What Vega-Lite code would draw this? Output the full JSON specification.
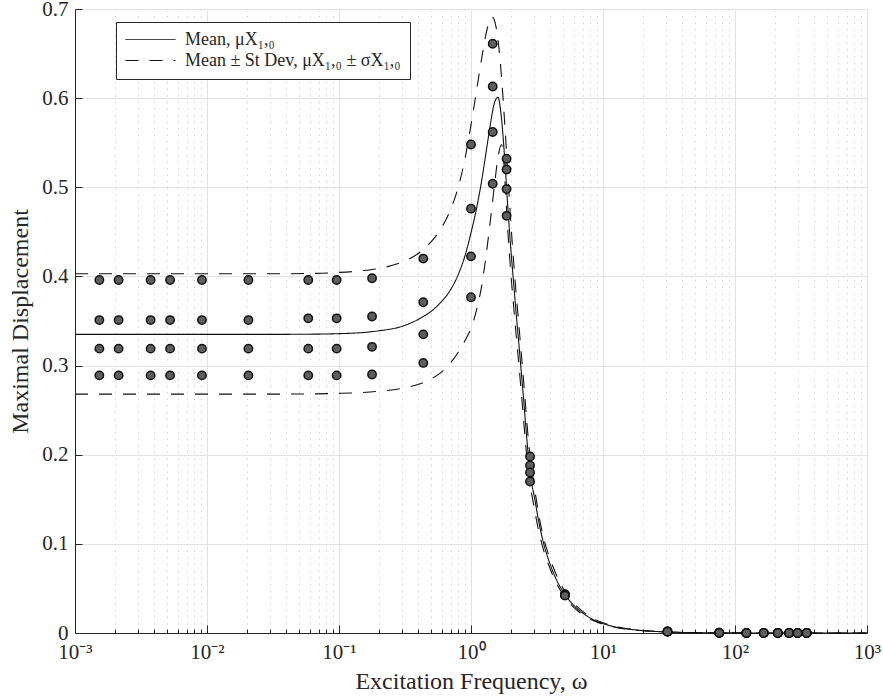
{
  "$schema": "https://vega.github.io/schema/vega-lite/v6.json",
  "width": 792,
  "height": 624,
  "autosize": {"type": "none"},
  "padding": {"left": 75, "top": 9, "right": 16, "bottom": 65},
  "background": "white",
  "config": {
    "font": "Liberation Serif",
    "view": {"stroke": null},
    "axis": {
      "labelFont": "Liberation Serif",
      "titleFont": "Liberation Serif",
      "labelColor": "#262626",
      "titleColor": "#262626",
      "domainColor": "#262626",
      "tickColor": "#262626",
      "titleFontWeight": "normal"
    },
    "legend": {
      "labelFont": "Liberation Serif",
      "labelFontSize": 18,
      "labelColor": "#262626",
      "labelLimit": 0,
      "orient": "none",
      "legendX": 41,
      "legendY": 13,
      "padding": 9,
      "strokeColor": "#262626",
      "fillColor": "white",
      "symbolType": "stroke",
      "symbolSize": 2500,
      "symbolStrokeWidth": 1,
      "symbolStrokeColor": "#111111",
      "clipHeight": 17,
      "rowPadding": 2,
      "labelOffset": 9
    }
  },
  "datasets": {
    "mean": [
      {"w":0.001,"v":0.335},{"w":0.01,"v":0.335},{"w":0.03,"v":0.335},{"w":0.06,"v":0.3352},{"w":0.1,"v":0.3358},{"w":0.15,"v":0.337},{"w":0.2,"v":0.339},{"w":0.3,"v":0.344},{"w":0.4,"v":0.352},{"w":0.5,"v":0.361},{"w":0.6,"v":0.372},{"w":0.7,"v":0.385},{"w":0.8,"v":0.402},{"w":0.9,"v":0.423},{"w":1.0,"v":0.449},{"w":1.1,"v":0.476},{"w":1.2,"v":0.506},{"w":1.3,"v":0.539},{"w":1.4,"v":0.57},{"w":1.5,"v":0.594},{"w":1.6,"v":0.601},{"w":1.7,"v":0.578},{"w":1.8,"v":0.532},{"w":1.9,"v":0.478},{"w":2.0,"v":0.432},{"w":2.1,"v":0.394},{"w":2.2,"v":0.358},{"w":2.3,"v":0.326},{"w":2.4,"v":0.294},{"w":2.5,"v":0.263},{"w":2.6,"v":0.232},{"w":2.72,"v":0.199},{"w":2.8,"v":0.184},{"w":2.9,"v":0.166},{"w":3.0,"v":0.155},{"w":3.25,"v":0.126},{"w":3.5,"v":0.104},{"w":4.0,"v":0.076},{"w":4.5,"v":0.058},{"w":5.2,"v":0.0425},{"w":6,"v":0.031},{"w":7,"v":0.0225},{"w":8.5,"v":0.0148},{"w":10,"v":0.0106},{"w":13,"v":0.0062},{"w":19,"v":0.003},{"w":30,"v":0.0012},{"w":50,"v":0.0004},{"w":100,"v":0.0001},{"w":1000,"v":0.000001}
    ],
    "upper": [
      {"w":0.001,"v":0.403},{"w":0.01,"v":0.403},{"w":0.03,"v":0.403},{"w":0.06,"v":0.4033},{"w":0.1,"v":0.4045},{"w":0.15,"v":0.4065},{"w":0.2,"v":0.409},{"w":0.3,"v":0.416},{"w":0.4,"v":0.426},{"w":0.5,"v":0.439},{"w":0.6,"v":0.455},{"w":0.7,"v":0.475},{"w":0.8,"v":0.5},{"w":0.9,"v":0.532},{"w":1.0,"v":0.57},{"w":1.1,"v":0.608},{"w":1.2,"v":0.643},{"w":1.3,"v":0.672},{"w":1.4,"v":0.689},{"w":1.45,"v":0.691},{"w":1.5,"v":0.688},{"w":1.6,"v":0.666},{"w":1.7,"v":0.625},{"w":1.8,"v":0.572},{"w":1.9,"v":0.515},{"w":2.0,"v":0.462},{"w":2.1,"v":0.418},{"w":2.2,"v":0.38},{"w":2.3,"v":0.347},{"w":2.4,"v":0.315},{"w":2.5,"v":0.284},{"w":2.6,"v":0.252},{"w":2.72,"v":0.217},{"w":2.85,"v":0.19},{"w":3.0,"v":0.167},{"w":3.25,"v":0.134},{"w":3.5,"v":0.11},{"w":4.0,"v":0.082},{"w":4.5,"v":0.063},{"w":5.2,"v":0.0455},{"w":6,"v":0.0335},{"w":7,"v":0.0243},{"w":8.5,"v":0.016},{"w":10,"v":0.0114},{"w":13,"v":0.0067},{"w":19,"v":0.0032},{"w":30,"v":0.0013},{"w":50,"v":0.00045},{"w":100,"v":0.00011},{"w":1000,"v":0.000001}
    ],
    "lower": [
      {"w":0.001,"v":0.268},{"w":0.01,"v":0.268},{"w":0.03,"v":0.268},{"w":0.06,"v":0.2682},{"w":0.1,"v":0.2688},{"w":0.15,"v":0.2698},{"w":0.2,"v":0.2712},{"w":0.3,"v":0.2745},{"w":0.4,"v":0.279},{"w":0.5,"v":0.285},{"w":0.6,"v":0.293},{"w":0.7,"v":0.303},{"w":0.8,"v":0.315},{"w":0.9,"v":0.328},{"w":1.0,"v":0.342},{"w":1.1,"v":0.362},{"w":1.2,"v":0.388},{"w":1.3,"v":0.423},{"w":1.4,"v":0.462},{"w":1.5,"v":0.5},{"w":1.6,"v":0.533},{"w":1.7,"v":0.548},{"w":1.75,"v":0.54},{"w":1.8,"v":0.512},{"w":1.9,"v":0.452},{"w":2.0,"v":0.405},{"w":2.1,"v":0.368},{"w":2.2,"v":0.334},{"w":2.3,"v":0.303},{"w":2.4,"v":0.271},{"w":2.5,"v":0.24},{"w":2.6,"v":0.21},{"w":2.72,"v":0.18},{"w":2.85,"v":0.16},{"w":3.0,"v":0.142},{"w":3.25,"v":0.115},{"w":3.5,"v":0.096},{"w":4.0,"v":0.071},{"w":4.5,"v":0.054},{"w":5.2,"v":0.0395},{"w":6,"v":0.0287},{"w":7,"v":0.0208},{"w":8.5,"v":0.0137},{"w":10,"v":0.0098},{"w":13,"v":0.0057},{"w":19,"v":0.0028},{"w":30,"v":0.0011},{"w":50,"v":0.00037},{"w":100,"v":0.00009},{"w":1000,"v":0.000001}
    ],
    "points": [
      {"w":0.00153,"v":0.396},{"w":0.00153,"v":0.351},{"w":0.00153,"v":0.319},{"w":0.00153,"v":0.289},
      {"w":0.00214,"v":0.396},{"w":0.00214,"v":0.351},{"w":0.00214,"v":0.319},{"w":0.00214,"v":0.289},
      {"w":0.00374,"v":0.396},{"w":0.00374,"v":0.351},{"w":0.00374,"v":0.319},{"w":0.00374,"v":0.289},
      {"w":0.00525,"v":0.396},{"w":0.00525,"v":0.351},{"w":0.00525,"v":0.319},{"w":0.00525,"v":0.289},
      {"w":0.00916,"v":0.396},{"w":0.00916,"v":0.351},{"w":0.00916,"v":0.319},{"w":0.00916,"v":0.289},
      {"w":0.0206,"v":0.396},{"w":0.0206,"v":0.351},{"w":0.0206,"v":0.319},{"w":0.0206,"v":0.289},
      {"w":0.0585,"v":0.396},{"w":0.0585,"v":0.353},{"w":0.0585,"v":0.319},{"w":0.0585,"v":0.289},
      {"w":0.096,"v":0.396},{"w":0.096,"v":0.353},{"w":0.096,"v":0.319},{"w":0.096,"v":0.289},
      {"w":0.178,"v":0.398},{"w":0.178,"v":0.355},{"w":0.178,"v":0.321},{"w":0.178,"v":0.29},
      {"w":0.435,"v":0.42},{"w":0.435,"v":0.371},{"w":0.435,"v":0.335},{"w":0.435,"v":0.303},
      {"w":1.0,"v":0.548},{"w":1.0,"v":0.476},{"w":1.0,"v":0.4225},{"w":1.0,"v":0.3766},
      {"w":1.46,"v":0.661},{"w":1.46,"v":0.613},{"w":1.46,"v":0.562},{"w":1.46,"v":0.504},
      {"w":1.86,"v":0.532},{"w":1.86,"v":0.52},{"w":1.86,"v":0.498},{"w":1.86,"v":0.468},
      {"w":2.8,"v":0.198},{"w":2.8,"v":0.188},{"w":2.8,"v":0.18},{"w":2.8,"v":0.17},
      {"w":5.15,"v":0.0435},{"w":5.15,"v":0.043},{"w":5.15,"v":0.0425},{"w":5.15,"v":0.042},
      {"w":30.8,"v":0.0018},{"w":30.8,"v":0.0017},{"w":30.8,"v":0.0016},{"w":30.8,"v":0.0015},
      {"w":76,"v":0.0003},{"w":76,"v":0.0003},{"w":76,"v":0.0002},{"w":76,"v":0.0002},
      {"w":122,"v":0.0001},{"w":122,"v":0.0001},{"w":122,"v":0.0001},{"w":122,"v":0.0001},
      {"w":165,"v":0.00005},{"w":165,"v":0.00005},{"w":165,"v":0.00005},{"w":165,"v":0.00005},
      {"w":211,"v":0.00003},{"w":211,"v":0.00003},{"w":211,"v":0.00003},{"w":211,"v":0.00003},
      {"w":257,"v":0.00002},{"w":257,"v":0.00002},{"w":257,"v":0.00002},{"w":257,"v":0.00002},
      {"w":298,"v":0.00001},{"w":298,"v":0.00001},{"w":298,"v":0.00001},{"w":298,"v":0.00001},
      {"w":349,"v":0.00001},{"w":349,"v":0.00001},{"w":349,"v":0.00001},{"w":349,"v":0.00001}
    ]
  },
  "encoding": {
    "x": {
      "field": "w",
      "type": "quantitative",
      "scale": {"type": "log", "domain": [0.001, 1000], "nice": false},
      "axis": {
        "title": "Excitation Frequency, ω",
        "titleFontSize": 24,
        "titlePadding": 3,
        "labelFontSize": 21,
        "labelPadding": 16,
        "labelOverlap": false,
        "labelFlush": false,
        "values": [0.001,0.002,0.003,0.004,0.005,0.006,0.007,0.008,0.009,0.01,0.02,0.03,0.04,0.05,0.06,0.07,0.08,0.09,0.1,0.2,0.3,0.4,0.5,0.6,0.7,0.8,0.9,1,2,3,4,5,6,7,8,9,10,20,30,40,50,60,70,80,90,100,200,300,400,500,600,700,800,900,1000],
        "labelExpr": "abs(log(datum.value)/LN10 - round(log(datum.value)/LN10)) < 0.000001 ? ['10⁻³','10⁻²','10⁻¹','10⁰','10¹','10²','10³'][round(log(datum.value)/LN10)+3] : ''",
        "grid": true,
        "gridColor": {"condition": {"test": "abs(log(datum.value)/LN10 - round(log(datum.value)/LN10)) < 0.000001", "value": "#e2e2e2"}, "value": "#c6c6c6"},
        "gridDash": {"condition": {"test": "abs(log(datum.value)/LN10 - round(log(datum.value)/LN10)) < 0.000001", "value": []}, "value": [1.2, 5.4]},
        "tickSize": {"condition": {"test": "abs(log(datum.value)/LN10 - round(log(datum.value)/LN10)) < 0.000001", "value": -8}, "value": -4},
        "domainColor": "#262626"
      }
    },
    "y": {
      "field": "v",
      "type": "quantitative",
      "scale": {"domain": [0, 0.7], "nice": false, "zero": false},
      "axis": {
        "title": "Maximal Displacement",
        "titleFontSize": 24,
        "titlePadding": 9,
        "labelFontSize": 21,
        "labelPadding": 14,
        "tickSize": -7,
        "values": [0,0.1,0.2,0.3,0.4,0.5,0.6,0.7],
        "labelExpr": "datum.value == 0 ? '0' : format(datum.value, '.1f')",
        "grid": true,
        "gridColor": "#e2e2e2",
        "labelOverlap": false,
        "labelFlush": false
      }
    }
  },
  "layer": [
    {
      "data": {"name": "mean"},
      "mark": {"type": "line", "color": "#111111", "strokeWidth": 1.1, "interpolate": "monotone"},
      "encoding": {
        "strokeDash": {
          "datum": "mean",
          "type": "nominal",
          "scale": {"domain": ["mean", "sd"], "range": [[1, 0], [13, 11]]},
          "legend": {
            "title": null,
            "labelExpr": "datum.value == 'mean' ? 'Mean, μX₁,₀' : 'Mean ± St Dev, μX₁,₀ ± σX₁,₀'"
          }
        }
      }
    },
    {
      "data": {"name": "upper"},
      "mark": {"type": "line", "color": "#111111", "strokeWidth": 1.1, "interpolate": "monotone"},
      "encoding": {"strokeDash": {"datum": "sd", "type": "nominal"}}
    },
    {
      "data": {"name": "lower"},
      "mark": {"type": "line", "color": "#111111", "strokeWidth": 1.1, "interpolate": "monotone"},
      "encoding": {"strokeDash": {"datum": "sd", "type": "nominal"}}
    },
    {
      "data": {"name": "points"},
      "mark": {"type": "circle", "size": 70, "color": "#5e5e5e", "opacity": 1, "stroke": "#111111", "strokeWidth": 1.5}
    }
  ]
}
